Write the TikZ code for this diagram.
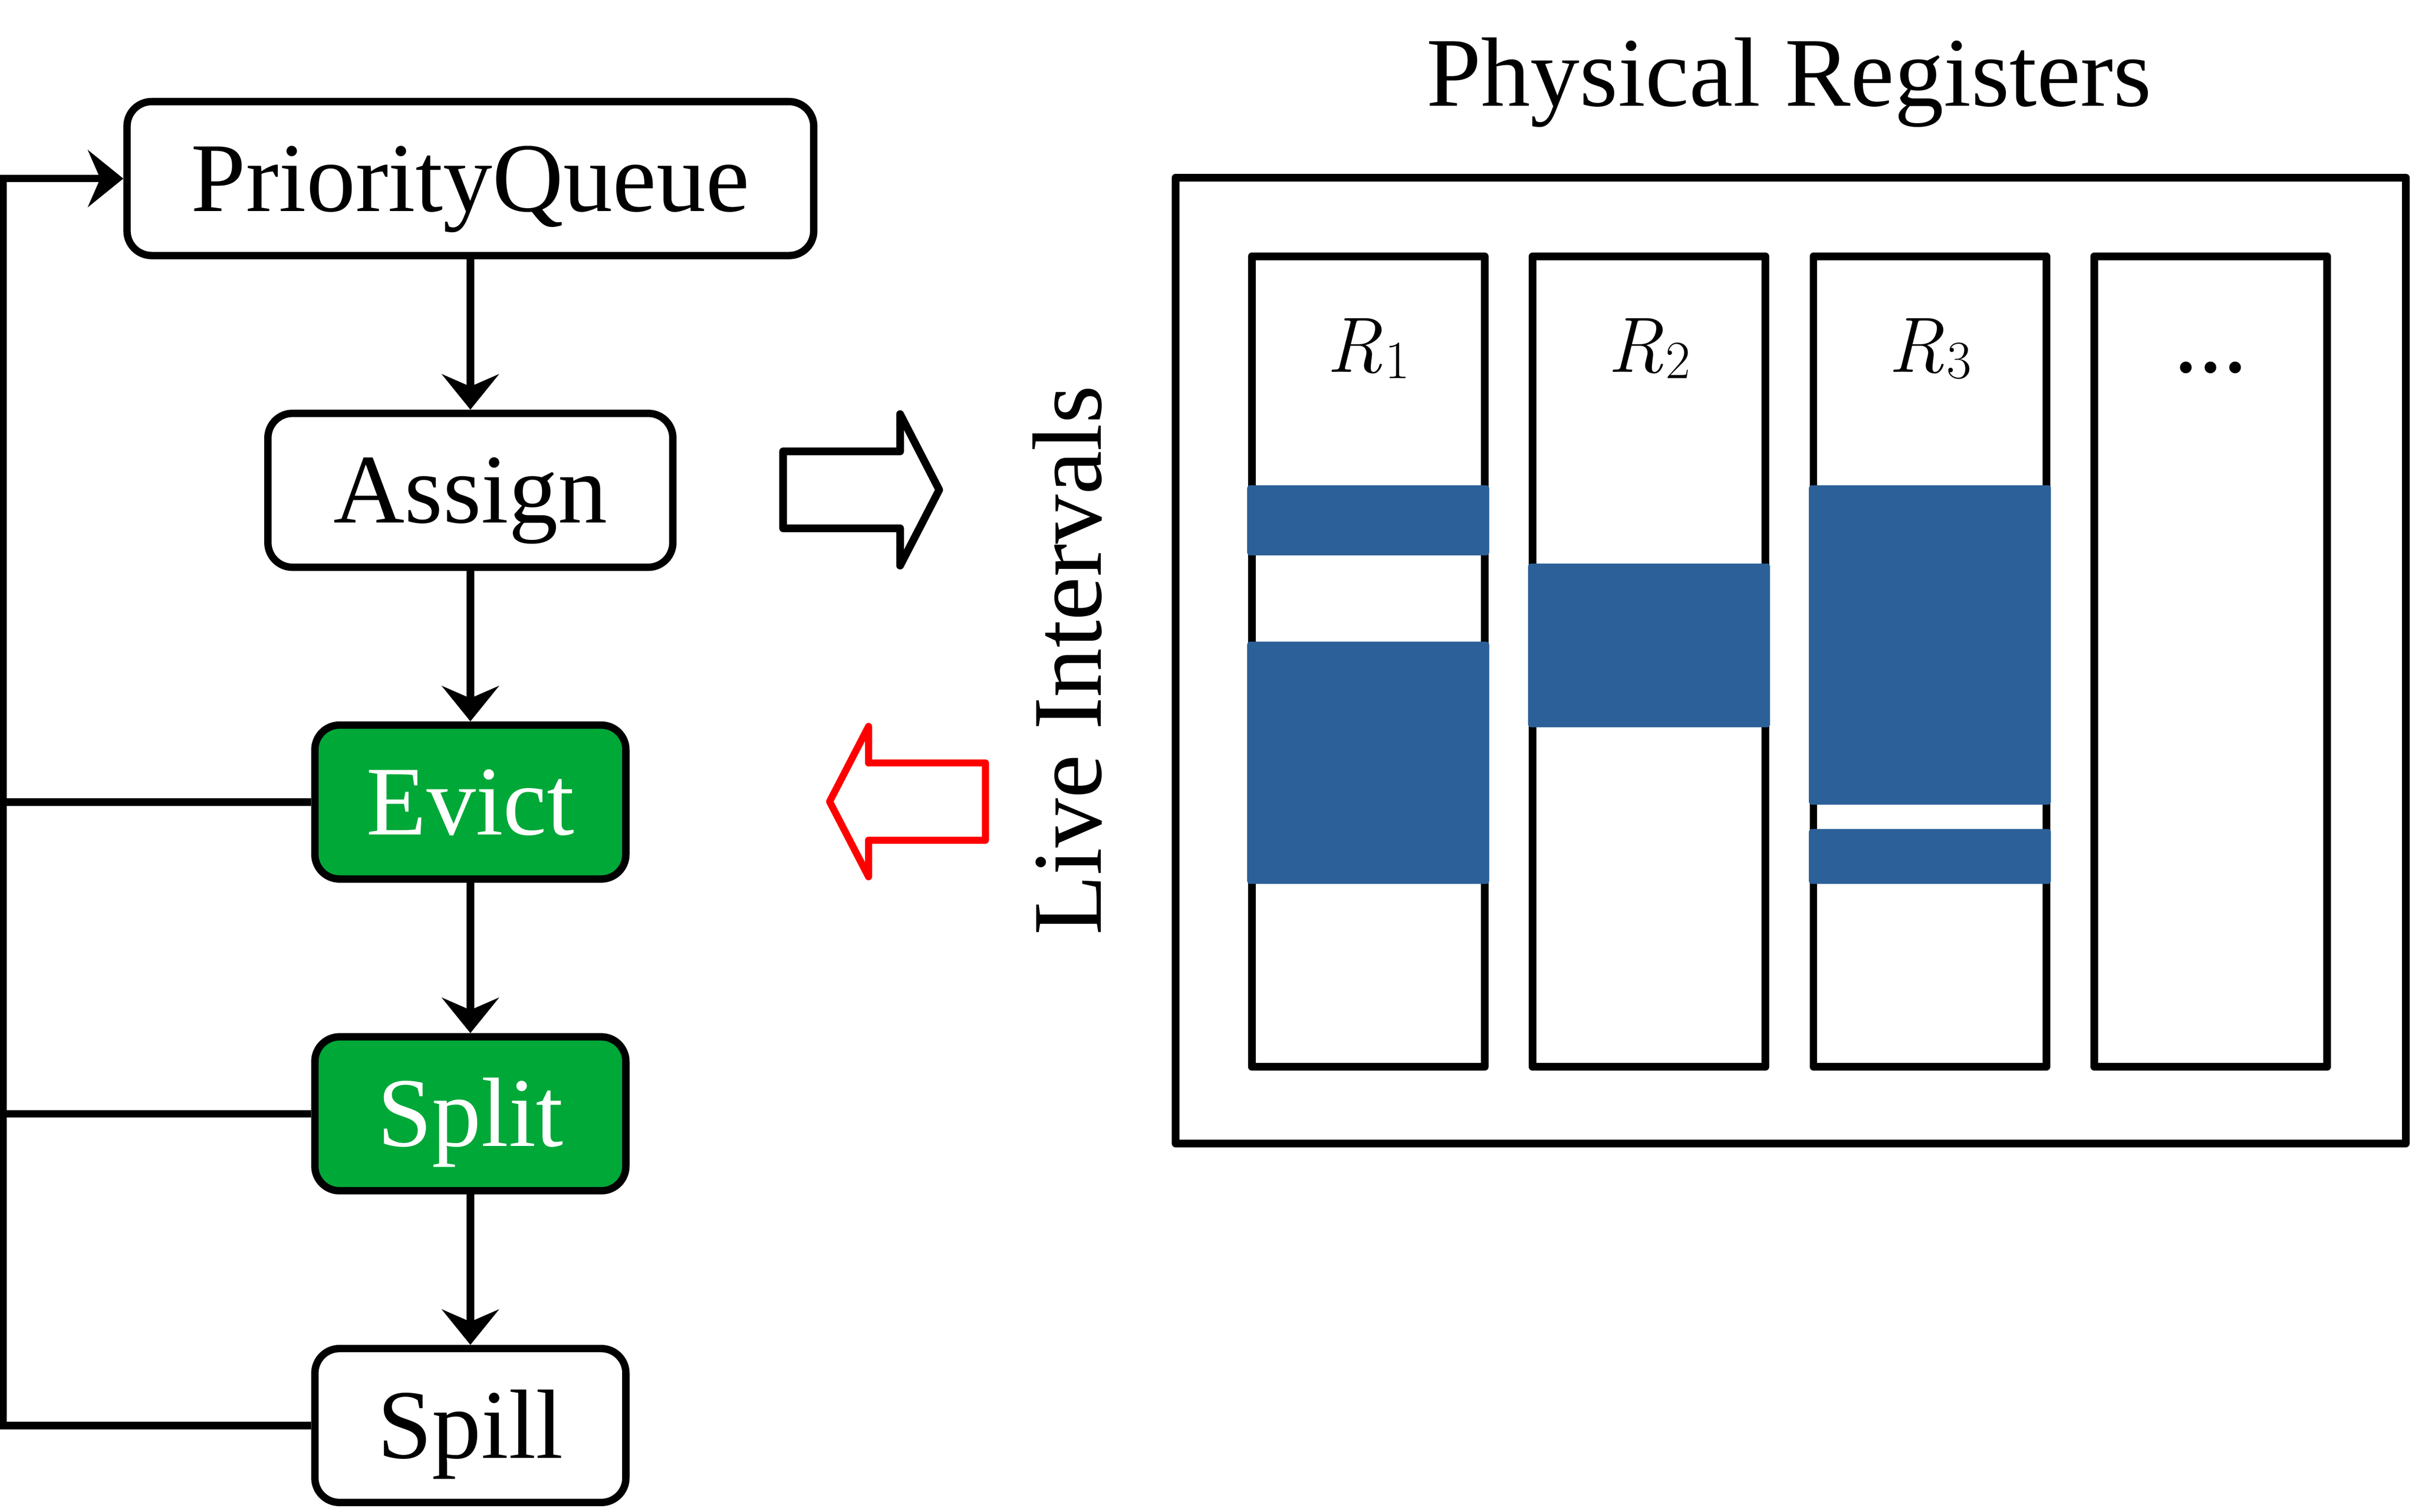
\documentclass[tikz,border=0pt]{standalone}
\usepackage{fontspec}
\setmainfont{Liberation Serif}
\usetikzlibrary{arrows.meta}
\definecolor{evgreen}{RGB}{0,168,56}
\definecolor{ivblue}{RGB}{44,96,152}
\newcommand\myBig{\fontsize{64}{72}\selectfont}
\newcommand\regname[1]{{\fontfamily{lmr}\fontsize{51}{58}\itshape\selectfont R\kern1.5pt\raisebox{-4.2pt}{\fontsize{35}{40}\upshape\selectfont #1}}}
\begin{document}
\begin{tikzpicture}[x=1pt,y=-1pt,
  flow/.style={draw, line width=4.8pt, rounded corners=16pt, minimum height=100pt,
    inner sep=0pt, text height=42.4pt, text depth=0pt, font=\myBig, fill=white},
  greenbox/.style={flow, fill=evgreen, text=white},
  conn/.style={line width=4.8pt, line join=miter,
    -{Stealth[length=23pt,width=37pt,inset=8pt]}},
  feed/.style={line width=4.8pt, line join=miter},
  blockarrow/.style={line width=5pt, line join=round},
  regcol/.style={draw, line width=5pt, line join=round, minimum width=151.3pt,
    minimum height=526.5pt, inner sep=0pt},
  bar/.style={fill=ivblue, rounded corners=2pt},
  title/.style={font=\myBig, inner sep=0pt, anchor=base},
  reglabel/.style={inner sep=0pt, anchor=base},
]
\useasboundingbox (0,0) rectangle (1568.48,982.12);

% ---- flow chart ----
\node[flow, minimum width=446pt] (PQ) at (305.5,116) {PriorityQueue};
\node[flow, minimum width=263pt] (Assign) at (305.5,318.5) {Assign};
\node[greenbox, minimum width=202pt] (Evict) at (305.5,521) {Evict};
\node[greenbox, minimum width=202pt] (Split) at (305.5,723.5) {Split};
\node[flow, minimum width=202pt] (Spill) at (305.5,926) {Spill};

\draw[conn] (PQ.south) -- (Assign.north);
\draw[conn] (Assign.south) -- (Evict.north);
\draw[conn] (Evict.south) -- (Split.north);
\draw[conn] (Split.south) -- (Spill.north);

\coordinate (loopx) at (1.9,0);
\draw[conn] (Spill.west) -- (Spill.west -| loopx) |- (PQ.west);
\draw[feed] (Evict.west) -- (Evict.west -| loopx);
\draw[feed] (Split.west) -- (Split.west -| loopx);

% ---- block arrows ----
\draw[blockarrow] (508.6,293.2) -- (584.6,293.2) -- (584.6,269) -- (610,318.2)
  -- (584.6,367.4) -- (584.6,343.2) -- (508.6,343.2) -- cycle;
\draw[blockarrow, red, line width=4.6pt] (640,495.6) -- (564.1,495.6) -- (564.1,471.9)
  -- (538.8,520.7) -- (564.1,569.5) -- (564.1,545.8) -- (640,545.8) -- cycle;

% ---- labels ----
\node[title, rotate=90] (LI) at (715,429) {Live Intervals};
\node[title] (PR) at (1162,68.7) {Physical Registers};

% ---- registers ----
\draw[line width=5pt, line join=round] (763.5,115.3) rectangle (1562.5,742.8);
\node[regcol] (C1) at (888.6,429.75) {};
\node[regcol] (C2) at (1071.0,429.75) {};
\node[regcol] (C3) at (1253.4,429.75) {};
\node[regcol] (C4) at (1435.8,429.75) {};

\fill[bar] (810.0,315.2) rectangle (967.2,360.8);
\fill[bar] (810.0,416.8) rectangle (967.2,574.2);
\fill[bar] (992.4,366.1) rectangle (1149.6,472.4);
\fill[bar] (1174.8,315.2) rectangle (1332.0,522.7);
\fill[bar] (1174.8,538.5) rectangle (1332.0,574.2);

\node[reglabel] (L1) at (888.6,241.6) {\regname{1}};
\node[reglabel] (L2) at (1071.0,241.6) {\regname{2}};
\node[reglabel] (L3) at (1253.4,241.6) {\regname{3}};
\node[title] (L4) at (1435.8,241.6) {...};
\end{tikzpicture}
\end{document}
